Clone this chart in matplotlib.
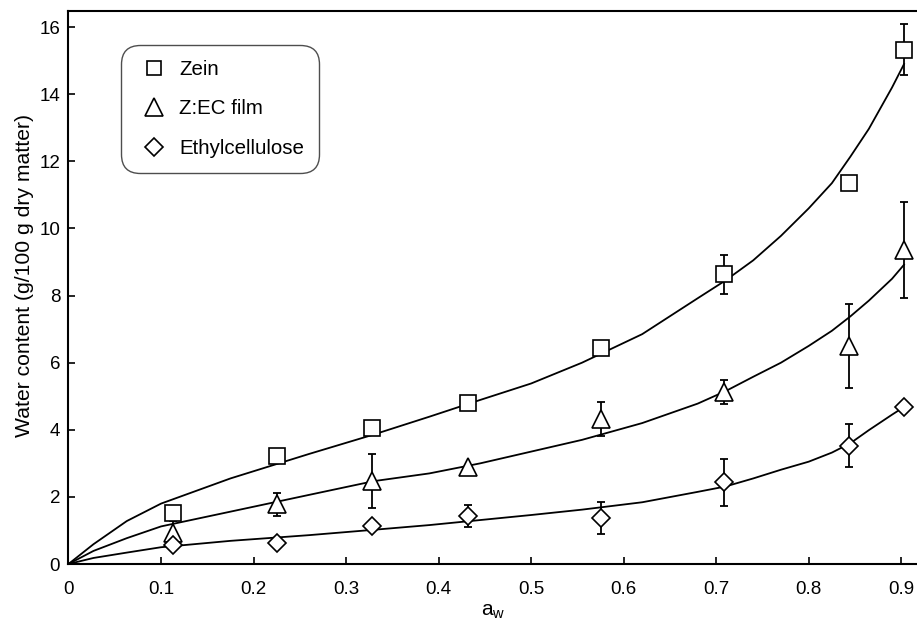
import matplotlib
matplotlib.use("Agg")
import matplotlib.pyplot as plt

plt.rcParams['font.family'] = ['Liberation Sans', 'DejaVu Sans']

# water activity of the salt solutions
aw = [0.113, 0.225, 0.328, 0.432, 0.575, 0.708, 0.843, 0.903]

# measured water content (g/100 g dry matter) and error bars
zein = [1.53, 3.23, 4.06, 4.79, 6.43, 8.63, 11.35, 15.32]
zein_err = [0, 0, 0, 0, 0, 0.59, 0, 0.76]
zec = [0.92, 1.78, 2.47, 2.90, 4.32, 5.13, 6.50, 9.36]
zec_err = [0.35, 0.35, 0.80, 0, 0.52, 0.35, 1.25, 1.43]
ec = [0.57, 0.62, 1.13, 1.43, 1.38, 2.43, 3.52, 4.69]
ec_err = [0, 0, 0, 0.33, 0.48, 0.71, 0.64, 0]

# fitted curves
fit_aw = [0, 0.027, 0.063, 0.1, 0.175, 0.26, 0.33, 0.39, 0.445, 0.5, 0.555,
          0.62, 0.68, 0.71, 0.74, 0.77, 0.80, 0.825, 0.845, 0.865, 0.89, 0.903]
zein_fit = [0, 0.59, 1.28, 1.80, 2.55, 3.28, 3.86, 4.39, 4.89, 5.38, 6.00,
            6.85, 7.92, 8.45, 9.05, 9.78, 10.60, 11.35, 12.14, 12.97, 14.20, 14.90]
zec_fit = [0, 0.39, 0.77, 1.12, 1.56, 2.06, 2.47, 2.70, 3.00, 3.35, 3.70,
           4.20, 4.78, 5.15, 5.58, 6.00, 6.50, 6.95, 7.38, 7.85, 8.50, 8.92]
ec_fit = [0, 0.18, 0.34, 0.50, 0.69, 0.86, 1.02, 1.16, 1.31, 1.46, 1.62,
          1.84, 2.15, 2.31, 2.55, 2.81, 3.05, 3.32, 3.60, 3.99, 4.45, 4.68]

fig = plt.figure(figsize=(9.17, 6.23), dpi=100)
ax = fig.add_axes([0.0747, 0.0947, 0.9253, 0.8876])

series = [
    (zein, zein_err, zein_fit, 's', 11.3, 'Zein'),
    (zec, zec_err, zec_fit, '^', 13.5, 'Z:EC film'),
    (ec, ec_err, ec_fit, 'D', 9.6, 'Ethylcellulose'),
]

handles = []
for vals, err, fit, mk, ms, name in series :
    ax.plot(fit_aw, fit, color='black', lw=1.3, zorder=2)
    # only draw bars where there is an error
    xs = [a for a, e in zip(aw, err) if e > 0]
    ys = [v for v, e in zip(vals, err) if e > 0]
    es = [e for e in err if e > 0]
    ax.errorbar(xs, ys, yerr=es, fmt='none', ecolor='black', elinewidth=1.3,
                capsize=3.2, capthick=1.3, zorder=3)
    h, = ax.plot(aw, vals, linestyle='none', marker=mk, markersize=ms,
                 markerfacecolor='white', markeredgecolor='black',
                 markeredgewidth=1.2, zorder=4, label=name)
    handles.append(h)

ax.set_xlim(0, 0.917)
ax.set_ylim(0, 16.48)
ax.set_xticks([0, 0.1, 0.2, 0.3, 0.4, 0.5, 0.6, 0.7, 0.8, 0.9])
ax.set_xticklabels(['0', '0.1', '0.2', '0.3', '0.4', '0.5', '0.6', '0.7', '0.8', '0.9'])
ax.set_yticks(range(0, 17, 2))
ax.tick_params(direction='in', length=5, width=1.2, labelsize=13.5)
ax.tick_params(axis='x', pad=12)
ax.tick_params(axis='y', pad=6)
ax.spines['right'].set_visible(False)
for s in ['left', 'bottom', 'top'] :
    ax.spines[s].set_linewidth(1.5)

ax.set_xlabel(r'a$_\mathregular{w}$', fontsize=15, labelpad=3)
ax.set_ylabel('Water content (g/100 g dry matter)', fontsize=15.2)
ax.yaxis.set_label_coords(-0.041, 0.522)

leg = ax.legend(handles=handles, loc='upper left', bbox_to_anchor=(0.062, 0.9385),
                fontsize=14.8, frameon=True, fancybox=True, edgecolor='#222222',
                labelspacing=1.0, handlelength=1.8, handletextpad=0.3,
                borderpad=0.72, borderaxespad=0, markerscale=0.95)
leg.get_frame().set_linewidth(1.0)
leg.get_frame().set_boxstyle('round', pad=0, rounding_size=0.9)

fig.savefig('out.png', dpi=100)
